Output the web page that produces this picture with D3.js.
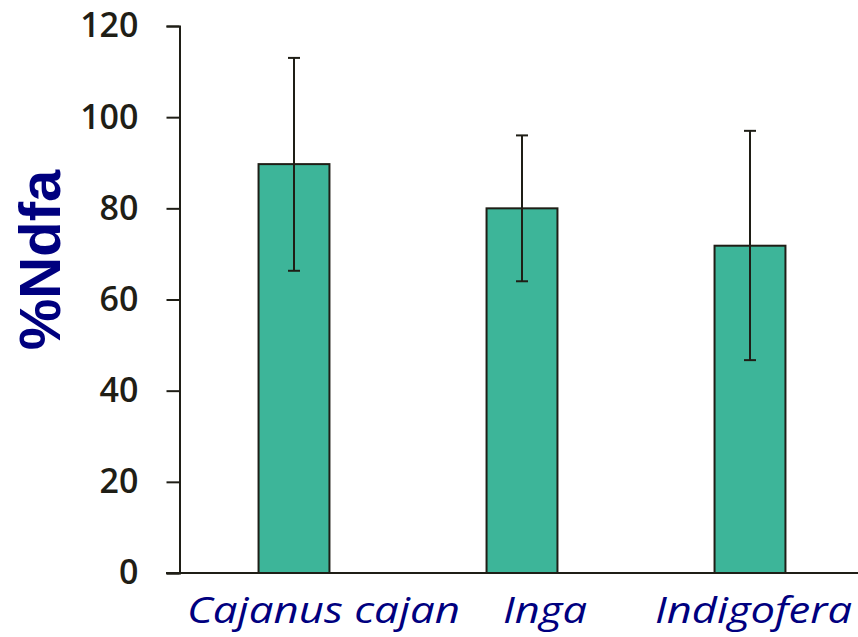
<!DOCTYPE html>
<html>
<head>
<meta charset="utf-8">
<script src="https://cdn.jsdelivr.net/npm/d3@7"></script>
<style>
  html, body { margin: 0; padding: 0; background: #fff; }
  svg { display: block; }
</style>
</head>
<body>
<svg id="chart" width="858" height="637"></svg>
<script>
// Nitrogen derived from atmosphere (%Ndfa) by legume species
const categories = ["Cajanus cajan", "Inga", "Indigofera"];
const means = [89.7, 80, 71.8];
const errorHigh = [113, 96, 97];
const errorLow = [66.3, 64, 46.7];
const yTicks = [0, 20, 40, 60, 80, 100, 120];

const svg = d3.select("#chart");
const W = 858, H = 637;

const x = d3.scaleBand()
  .domain(categories)
  .range([180, 864])
  .paddingInner(0.689)
  .paddingOuter(0.3445);

const y = d3.scaleLinear().domain([0, 120]).range([573, 26]);

const ink = "#1f1e16";

// bars
svg.append("g").selectAll("rect")
  .data(categories)
  .join("rect")
  .attr("x", d => x(d))
  .attr("y", (d, i) => y(means[i]))
  .attr("width", x.bandwidth())
  .attr("height", (d, i) => y(0) - y(means[i]))
  .attr("fill", "#3db599")
  .attr("stroke", ink)
  .attr("stroke-width", 2);

// error bars
const eb = svg.append("g").attr("stroke", ink).attr("stroke-width", 2);
categories.forEach((c, i) => {
  const cx = x(c) + x.bandwidth() / 2;
  eb.append("line").attr("x1", cx).attr("x2", cx).attr("y1", y(errorHigh[i])).attr("y2", y(errorLow[i]));
  eb.append("line").attr("x1", cx - 6).attr("x2", cx + 6).attr("y1", y(errorHigh[i])).attr("y2", y(errorHigh[i]));
  eb.append("line").attr("x1", cx - 6).attr("x2", cx + 6).attr("y1", y(errorLow[i])).attr("y2", y(errorLow[i]));
});

// y axis
const yAxis = svg.append("g")
  .attr("transform", "translate(179.5,0)")
  .call(d3.axisLeft(y).tickValues(yTicks).tickSize(13).tickPadding(28).tickSizeOuter(13));
yAxis.select(".domain").attr("stroke", ink).attr("stroke-width", 2);
yAxis.selectAll(".tick line").attr("stroke", ink).attr("stroke-width", 2);
yAxis.selectAll(".tick text")
  .attr("fill", ink)
  .attr("font-family", "'Open Sans', sans-serif")
  .attr("font-weight", 600)
  .attr("font-size", 34);

// x axis baseline
svg.append("line")
  .attr("x1", 166).attr("x2", W)
  .attr("y1", y(0)).attr("y2", y(0))
  .attr("stroke", ink).attr("stroke-width", 2);

// category labels (left edge and rendered width of each label)
const labelX = [187, 503, 655];
const labelW = [273, 84, 197];
svg.append("g").selectAll("text")
  .data(categories)
  .join("text")
  .attr("x", (d, i) => labelX[i])
  .attr("y", 623)
  .attr("font-family", "'Open Sans', sans-serif")
  .attr("font-style", "italic")
  .attr("font-weight", 500)
  .attr("font-size", 37)
  .attr("textLength", (d, i) => labelW[i])
  .attr("lengthAdjust", "spacingAndGlyphs")
  .attr("fill", "#00007f")
  .text(d => d);

// y axis title
svg.append("text")
  .attr("transform", "translate(60,260) rotate(-90)")
  .attr("text-anchor", "middle")
  .attr("font-family", "'Liberation Sans', Arial, sans-serif")
  .attr("font-weight", 700)
  .attr("font-size", 58)
  .attr("fill", "#00007f")
  .text("%Ndfa");
</script>
</body>
</html>
